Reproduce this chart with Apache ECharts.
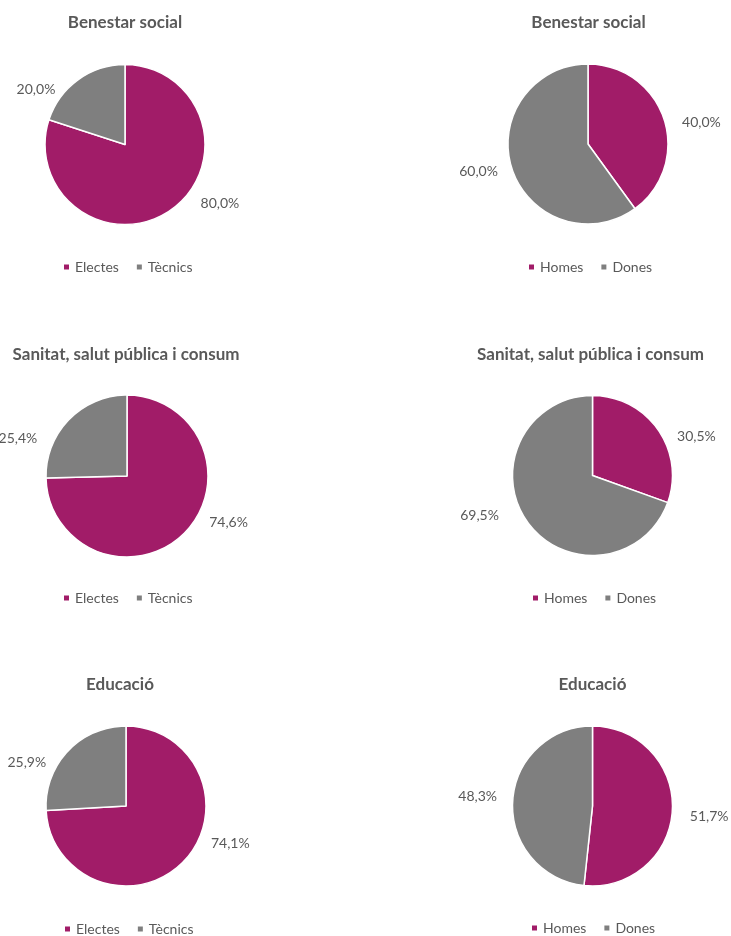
<!DOCTYPE html>
<html>
<head>
<meta charset="utf-8">
<script src="https://cdn.jsdelivr.net/npm/echarts@6/dist/echarts.min.js"></script>
<style>
html,body{margin:0;padding:0;background:#fff;}
#chart{width:731px;height:936px;}
</style>
</head>
<body>
<div id="chart"></div>
<script>
// ---- data ----
const titles = ['Benestar social', 'Benestar social', 'Sanitat, salut pública i consum', 'Sanitat, salut pública i consum', 'Educació', 'Educació'];
const catsRol = ['Electes', 'Tècnics'];
const catsGenere = ['Homes', 'Dones'];
const benestarRol = [80.0, 20.0];
const benestarGenere = [40.0, 60.0];
const sanitatRol = [74.6, 25.4];
const sanitatGenere = [30.5, 69.5];
const educacioRol = [74.1, 25.9];
const educacioGenere = [51.7, 48.3];

// ---- layout / style ----
const COLORS = ['#A11C68', '#7F7F7F'];
const TEXT = '#595959';
const FONT = 'Lato, "Open Sans", sans-serif';
const panels = [
  {cats: catsRol,    vals: benestarRol,    cx: 125,   cy: 144.5, r: 80, titleX: 125,   titleY: 23,  legendX: 62,  legendY: 267},
  {cats: catsGenere, vals: benestarGenere, cx: 588,   cy: 144,   r: 80, titleX: 588.5, titleY: 23,  legendX: 527, legendY: 267},
  {cats: catsRol,    vals: sanitatRol,     cx: 127,   cy: 476,   r: 81, titleX: 126,   titleY: 355, legendX: 62,  legendY: 598},
  {cats: catsGenere, vals: sanitatGenere,  cx: 592.5, cy: 475.5, r: 80, titleX: 590.5, titleY: 355, legendX: 531, legendY: 598},
  {cats: catsRol,    vals: educacioRol,    cx: 126,   cy: 806,   r: 80, titleX: 120,   titleY: 685, legendX: 63,  legendY: 929},
  {cats: catsGenere, vals: educacioGenere, cx: 592.5, cy: 806,   r: 80, titleX: 592.5, titleY: 685, legendX: 530, legendY: 928}
];
// label nudges: [gap from circle edge, vertical offset from centre] per slice
const labelNudge = [
  [[21, 58.5], [12, -55.5]],
  [[17, -21.5], [15, 27.7]],
  [[16, 46.7], [18, -37.7]],
  [[15, -39.5], [24, 39.5]],
  [[14, 37], [13, -44]],
  [[18, 10.7], [16, -9.3]]
];

const fmt = v => v.toFixed(1).replace('.', ',') + '%';

const option = {
  backgroundColor: '#fff',
  animation: false,
  title: panels.map((p, i) => ({
    text: titles[i],
    left: p.titleX,
    top: p.titleY - 10,
    textAlign: 'center',
    padding: 0,
    textStyle: {fontFamily: FONT, fontWeight: 'bold', fontSize: 17, color: TEXT, lineHeight: 20}
  })),
  legend: panels.map((p, i) => ({
    data: p.cats,
    left: p.legendX,
    top: p.legendY - 8,
    padding: 0,
    orient: 'horizontal',
    icon: 'rect',
    itemWidth: 7,
    itemHeight: 7,
    itemGap: 16,
    selectedMode: false,
    textStyle: {fontFamily: FONT, fontSize: 14, color: TEXT, lineHeight: 16}
  })),
  series: panels.map((p, si) => {
    const total = p.vals.reduce((a, b) => a + b, 0);
    return {
      type: 'pie',
      center: [p.cx, p.cy],
      radius: p.r,
      startAngle: 90,
      clockwise: true,
      avoidLabelOverlap: false,
      itemStyle: {borderColor: '#fff', borderWidth: 1.5},
      label: {
        show: true,
        position: 'outside',
        formatter: prm => fmt(prm.value),
        fontFamily: FONT,
        fontSize: 14,
        color: TEXT
      },
      labelLine: {show: false},
      labelLayout: prm => {
        const di = prm.dataIndex;
        let before = 0;
        for (let k = 0; k < di; k++) before += p.vals[k];
        const midFrac = (before + p.vals[di] / 2) / total;
        const right = Math.sin(midFrac * 2 * Math.PI) >= 0;
        const [gap, dy] = labelNudge[si][di];
        const hw = Math.sqrt(Math.max(0, p.r * p.r - dy * dy));
        return {
          x: right ? p.cx + hw + gap : p.cx - hw - gap,
          y: p.cy + dy,
          align: right ? 'left' : 'right',
          verticalAlign: 'middle'
        };
      },
      emphasis: {disabled: true},
      data: p.cats.map((c, k) => ({name: c, value: p.vals[k], itemStyle: {color: COLORS[k]}}))
    };
  })
};

const chart = echarts.init(document.getElementById('chart'), null, {renderer: 'canvas'});
chart.setOption(option);
</script>
</body>
</html>
